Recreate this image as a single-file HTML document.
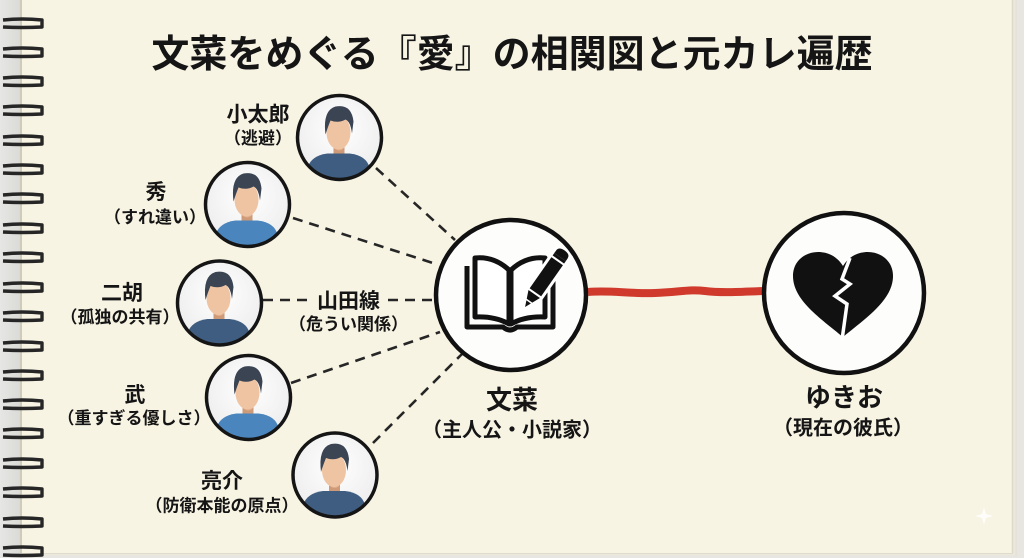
<!DOCTYPE html>
<html><head><meta charset="utf-8">
<style>
html,body{margin:0;padding:0;background:#e9e8e3;}
body{width:1024px;height:558px;overflow:hidden;}
svg{display:block;}
text{font-family:"Liberation Sans","Noto Sans CJK JP",sans-serif;font-weight:700;fill:#151515;}
</style></head>
<body>
<svg width="1024" height="558" viewBox="0 0 1024 558" xmlns="http://www.w3.org/2000/svg">
<defs>
  <linearGradient id="bgL" x1="0" x2="1" y1="0" y2="0">
    <stop offset="0" stop-color="#e6e6e4"/><stop offset="1" stop-color="#d9d9d6"/>
  </linearGradient>
  <radialGradient id="av" cx="0.5" cy="0.4" r="0.6">
    <stop offset="0" stop-color="#ffffff"/><stop offset="1" stop-color="#ededed"/>
  </radialGradient>
  <clipPath id="cc"><circle cx="0" cy="0" r="41"/></clipPath>
  <g id="person">
    <circle cx="0" cy="0" r="42" fill="url(#av)"/>
    <g clip-path="url(#cc)">
      <path d="M -6 4 L 5 4 L 5 19 L -6 19 Z" fill="#dfae8b"/>
      <path d="M -6 10 Q 0 16 5 10 L 5 19 L -6 19 Z" fill="#cf9a78"/>
      <ellipse cx="-1" cy="-5" rx="12" ry="17" fill="#efc4a2"/>
      <path d="M -14 -3 Q -17 -27 -4 -31 Q 12 -34 14 -16 L 12.5 -4 Q 11 -16 6 -18 Q -1 -14 -9 -17 Q -11.5 -11 -14 -3 Z" fill="#3a4452"/>
    </g>
  </g>
  <clipPath id="shirtclip"><circle cx="0" cy="0" r="41"/></clipPath>
</defs>

<!-- background / paper -->
<rect x="0" y="0" width="1024" height="558" fill="#e7e6e1"/>
<rect x="0" y="0" width="22" height="558" fill="url(#bgL)"/>
<rect x="20" y="0" width="996" height="555" fill="#ede9da"/>
<rect x="20" y="0" width="992" height="553" fill="#f8f4e4"/>
<line x1="21" y1="0" x2="21" y2="553" stroke="#cfcbbb" stroke-width="2"/>
<line x1="1012.5" y1="0" x2="1012.5" y2="553" stroke="#dedacb" stroke-width="1.5"/>
<line x1="1016" y1="0" x2="1016" y2="556" stroke="#e2dfd3" stroke-width="1"/>
<line x1="20" y1="553.5" x2="1013" y2="553.5" stroke="#e0dccd" stroke-width="1"/>

<!-- spiral coils -->
<g fill="none" stroke="#262626" stroke-width="3.4" stroke-linejoin="round">
  <path d="M3 20 Q22 18 42 20 L42 27 Q22 28 3 27"/>
  <path d="M3 49 Q22 47 42 49 L42 56 Q22 57 3 56"/>
  <path d="M3 78 Q22 76 42 78 L42 85 Q22 86 3 85"/>
  <path d="M3 107 Q22 105 42 107 L42 114 Q22 115 3 114"/>
  <path d="M3 137 Q22 135 42 137 L42 144 Q22 145 3 144"/>
  <path d="M3 166 Q22 164 42 166 L42 173 Q22 174 3 173"/>
  <path d="M3 195 Q22 193 42 195 L42 202 Q22 203 3 202"/>
  <path d="M3 225 Q22 223 42 225 L42 232 Q22 233 3 232"/>
  <path d="M3 254 Q22 252 42 254 L42 261 Q22 262 3 261"/>
  <path d="M3 284 Q22 282 42 284 L42 291 Q22 292 3 291"/>
  <path d="M3 313 Q22 311 42 313 L42 320 Q22 321 3 320"/>
  <path d="M3 343 Q22 341 42 343 L42 350 Q22 351 3 350"/>
  <path d="M3 372 Q22 370 42 372 L42 379 Q22 380 3 379"/>
  <path d="M3 401 Q22 399 42 401 L42 408 Q22 409 3 408"/>
  <path d="M3 430 Q22 428 42 430 L42 437 Q22 438 3 437"/>
  <path d="M3 460 Q22 458 42 460 L42 467 Q22 468 3 467"/>
  <path d="M3 489 Q22 487 42 489 L42 496 Q22 497 3 496"/>
  <path d="M3 519 Q22 517 42 519 L42 526 Q22 527 3 526"/>
  <path d="M3 548 Q22 546 42 548 L42 555 Q22 556 3 555"/>
</g>

<!-- title -->
<text x="512" y="67" font-size="38" text-anchor="middle">文菜をめぐる『愛』の相関図と元カレ遍歴</text>

<!-- dashed connectors -->
<g stroke="#262626" stroke-width="2.6" stroke-dasharray="10 7" fill="none">
  <line x1="376" y1="168" x2="455" y2="240"/>
  <line x1="293" y1="218" x2="436" y2="264"/>
  <line x1="263" y1="300" x2="311" y2="300"/>
  <line x1="388" y1="300" x2="435" y2="300"/>
  <line x1="291" y1="383" x2="440" y2="332"/>
  <line x1="373" y1="443" x2="462" y2="354"/>
</g>

<!-- red line -->
<path d="M 588 292 C 610 290, 630 294, 655 293 S 690 289, 705 291 S 740 292, 764 291" stroke="#cf3a2c" stroke-width="8" fill="none" stroke-linecap="butt"/>

<!-- persons -->
<use href="#person" x="339.5" y="137.5"/>
<use href="#person" x="247.5" y="204.5"/>
<use href="#person" x="219.5" y="303"/>
<use href="#person" x="248.5" y="397.5"/>
<use href="#person" x="335" y="475"/>

<!-- shirts -->
<g>
  <g transform="translate(339.5,137.5)"><path clip-path="url(#shirtclip)" d="M -36 46 L -32 30 Q -28 18 -12 16 L 10 16 Q 27 18 30 30 L 34 46 Z" fill="#3e5d80"/></g>
  <g transform="translate(247.5,204.5)"><path clip-path="url(#shirtclip)" d="M -36 46 L -32 30 Q -28 18 -12 16 L 10 16 Q 27 18 30 30 L 34 46 Z" fill="#4a85bd"/></g>
  <g transform="translate(219.5,303)"><path clip-path="url(#shirtclip)" d="M -36 46 L -32 30 Q -28 18 -12 16 L 10 16 Q 27 18 30 30 L 34 46 Z" fill="#3e5d80"/></g>
  <g transform="translate(248.5,397.5)"><path clip-path="url(#shirtclip)" d="M -36 46 L -32 30 Q -28 18 -12 16 L 10 16 Q 27 18 30 30 L 34 46 Z" fill="#4a85bd"/></g>
  <g transform="translate(335,475)"><path clip-path="url(#shirtclip)" d="M -36 46 L -32 30 Q -28 18 -12 16 L 10 16 Q 27 18 30 30 L 34 46 Z" fill="#3e5d80"/></g>
</g>
<g fill="none" stroke="#151515" stroke-width="3.5">
  <circle cx="339.5" cy="137.5" r="42"/>
  <circle cx="247.5" cy="204.5" r="42"/>
  <circle cx="219.5" cy="303" r="42"/>
  <circle cx="248.5" cy="397.5" r="42"/>
  <circle cx="335" cy="475" r="42"/>
</g>

<!-- main circle -->
<circle cx="511" cy="295" r="75" fill="#fdfdfc" stroke="#111" stroke-width="4.5"/>
<!-- book -->
<g stroke="#111" stroke-width="5" stroke-linejoin="round" fill="none">
  <path d="M 467 266 L 467 327 L 503 327 Q 510 333 517 327 L 553 327 L 553 266"/>
  <path d="M 509 270 Q 494 256 475 258 L 475 317 Q 495 316 509 324 Z" fill="#fff"/>
  <path d="M 511 270 Q 526 256 545 258 L 545 317 Q 525 316 511 324 Z" fill="#fff"/>
  <line x1="510" y1="270" x2="510" y2="325"/>
</g>
<!-- pencil -->
<g transform="translate(544,280) rotate(-55)">
  <rect x="-20" y="-10" width="56" height="20" fill="#fff"/>
  <rect x="-16" y="-7" width="44" height="14" fill="#111"/>
  <path d="M 28 -7 L 31 -7 Q 36 -7 36 0 Q 36 7 31 7 L 28 7 Z" fill="#111"/>
  <line x1="24" y1="-8" x2="24" y2="8" stroke="#fff" stroke-width="2"/>
  <path d="M -17 -7 L -17 7 L -33 0 Z" fill="#111"/>
  <line x1="-16" y1="-8" x2="-16" y2="8" stroke="#fff" stroke-width="2"/>
  <line x1="-26" y1="-4" x2="-26" y2="4" stroke="#fff" stroke-width="1.5"/>
</g>

<!-- yukio circle -->
<circle cx="844" cy="293" r="80" fill="#fdfdfc" stroke="#111" stroke-width="4.5"/>
<path d="M 843 337 C 820 318, 793 300, 793 276 C 793 261, 805 252, 818 252 C 830 252, 838 258, 843 266 C 848 258, 856 252, 868 252 C 881 252, 893 261, 893 276 C 893 300, 866 318, 843 337 Z" fill="#111"/>
<polyline points="850,258 842,279 850,284 835,296 847,304 842,340" fill="none" stroke="#fff" stroke-width="3.5" stroke-linejoin="miter"/>

<!-- labels -->
<text x="258" y="121.5" font-size="21" text-anchor="middle">小太郎</text>
<text x="258" y="144" font-size="17" text-anchor="middle">（逃避）</text>

<text x="156" y="199" font-size="21" text-anchor="middle">秀</text>
<text x="155" y="223" font-size="17" text-anchor="middle">（すれ違い）</text>

<text x="122" y="300" font-size="21" text-anchor="middle">二胡</text>
<text x="120" y="323" font-size="17" text-anchor="middle">（孤独の共有）</text>

<text x="348.5" y="308" font-size="21" text-anchor="middle">山田線</text>
<text x="348.5" y="330" font-size="17" text-anchor="middle">（危うい関係）</text>

<text x="135" y="402" font-size="21" text-anchor="middle">武</text>
<text x="134" y="424" font-size="17" text-anchor="middle">（重すぎる優しさ）</text>

<text x="222" y="488" font-size="21" text-anchor="middle">亮介</text>
<text x="222" y="511.5" font-size="17" text-anchor="middle">（防衛本能の原点）</text>

<text x="512" y="409" font-size="26" text-anchor="middle">文菜</text>
<text x="512" y="436.5" font-size="20" text-anchor="middle">（主人公・小説家）</text>

<text x="844" y="406.5" font-size="26" text-anchor="middle">ゆきお</text>
<text x="843" y="434.5" font-size="20" text-anchor="middle">（現在の彼氏）</text>

<!-- sparkle -->
<path d="M 984 507 L 986 514 L 993 516 L 986 518 L 984 525 L 982 518 L 975 516 L 982 514 Z" fill="#ffffff" opacity="0.8"/>
</svg>
</body></html>
